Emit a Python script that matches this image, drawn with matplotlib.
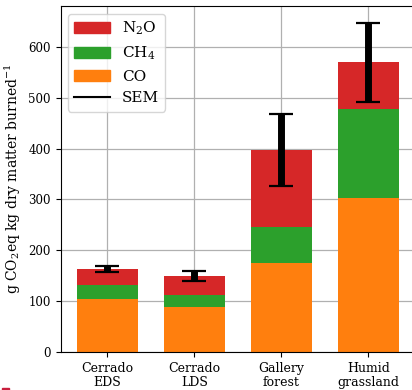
import matplotlib
matplotlib.use("Agg")
import matplotlib.pyplot as plt
from matplotlib.patches import Patch, Rectangle
from matplotlib.lines import Line2D
import numpy as np

plt.rcParams['font.family'] = ['DejaVu Serif']
plt.rcParams['mathtext.fontset'] = 'dejavuserif'

categories = ["Cerrado\nEDS", "Cerrado\nLDS", "Gallery\nforest", "Humid\ngrassland"]
co = [104.5, 89, 176, 302.5]
ch4 = [27.5, 23, 70, 175.5]
n2o = [31, 38, 151.5, 91]
sem = [5.5, 9.5, 70.5, 78]

colors = {"CO": "#ff7f0e", "CH4": "#2ca02c", "N2O": "#d62728"}

fig = plt.figure(figsize=(4.12, 3.90), dpi=100)
ax = fig.add_axes([0.1473, 0.0967, 0.86, 0.888])

x = np.arange(len(categories))
w = 0.7
co_a = np.array(co)
ch4_a = np.array(ch4)
n2o_a = np.array(n2o)
total = co_a + ch4_a + n2o_a

ax.bar(x, co_a, w, color=colors["CO"], zorder=2)
ax.bar(x, ch4_a, w, bottom=co_a, color=colors["CH4"], zorder=2)
ax.bar(x, n2o_a, w, bottom=co_a + ch4_a, color=colors["N2O"], zorder=2)
ax.errorbar(x, total, yerr=sem, fmt='none', ecolor='black', elinewidth=5,
            capsize=8.5, capthick=1.6, zorder=3)

ax.set_ylim(0, 680)
ax.set_xticks(x)
ax.set_xticklabels(categories, fontsize=9, linespacing=1.1)
ax.set_yticks([0, 100, 200, 300, 400, 500, 600])
ax.tick_params(axis='y', labelsize=8.5)
ax.set_ylabel("g CO$_2$eq kg dry matter burned$^{-1}$", fontsize=10)
ax.grid(True, color='#b0b0b0', linewidth=0.9)
ax.set_axisbelow(True)

handles = [Patch(color=colors["N2O"]), Patch(color=colors["CH4"]),
           Patch(color=colors["CO"]), Line2D([0], [0], color='black', lw=1.5)]
labels = ["N$_2$O", "CH$_4$", "CO", "SEM"]
ax.legend(handles, labels, loc='upper left', fontsize=11, handlelength=2.3,
          framealpha=0.8)

fig.add_artist(Rectangle((0.005, 0.0), 0.017, 0.004, transform=fig.transFigure,
                         color='#c81e3c'))

fig.savefig("out.png", dpi=100)
